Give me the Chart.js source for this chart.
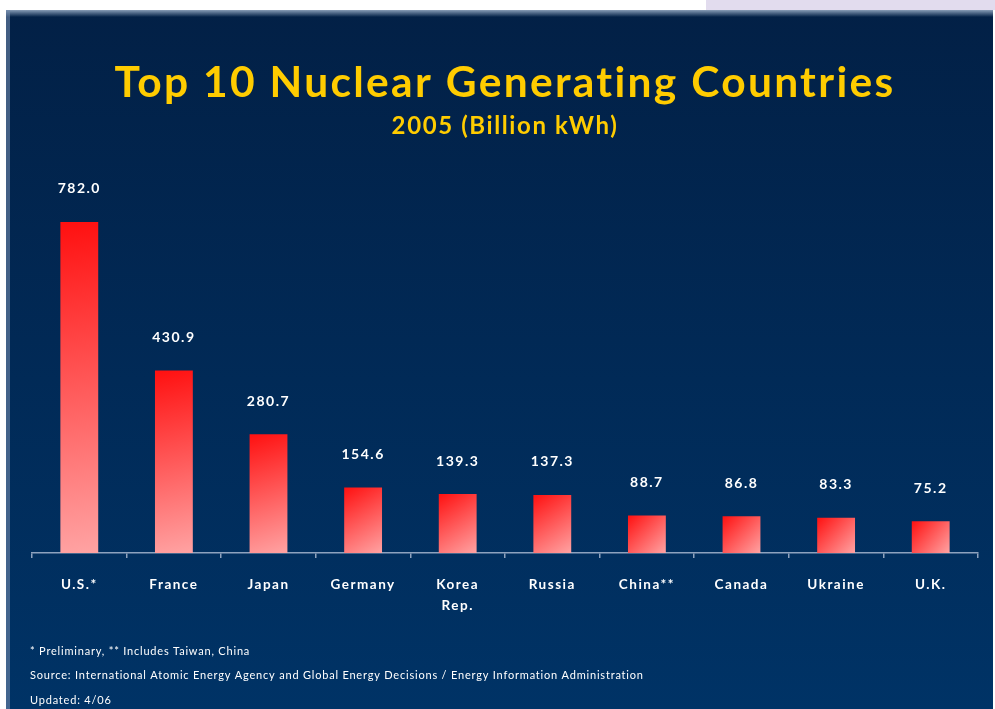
<!DOCTYPE html>
<html>
<head>
<meta charset="utf-8">
<script src="https://cdn.jsdelivr.net/npm/chart.js@4/dist/chart.umd.min.js"></script>
<style>
  html, body { margin: 0; padding: 0; background: #fff; }
  #wrap { width: 995px; height: 709px; position: relative; }
</style>
</head>
<body>
<div id="wrap"><canvas id="nuclearChart" width="995" height="709"></canvas></div>
<script>
const countries = ['U.S.*', 'France', 'Japan', 'Germany', ['Korea', 'Rep.'], 'Russia', 'China**', 'Canada', 'Ukraine', 'U.K.'];
const generation = [782.0, 430.9, 280.7, 154.6, 139.3, 137.3, 88.7, 86.8, 83.3, 75.2];
const titleText = 'Top 10 Nuclear Generating Countries';
const subtitleText = '2005 (Billion kWh)';
const footnotes = [
  '* Preliminary, ** Includes Taiwan, China',
  'Source: International Atomic Energy Agency and Global Energy Decisions / Energy Information Administration',
  'Updated: 4/06'
];

const FONT = 'Lato, "DejaVu Sans", sans-serif';

// slide background, title and footnotes
const slidePlugin = {
  id: 'slide',
  beforeDraw(chart) {
    const ctx = chart.ctx;
    const w = chart.width, h = chart.height;
    ctx.save();
    ctx.fillStyle = '#ffffff';
    ctx.fillRect(0, 0, w, h);
    ctx.fillStyle = '#e2dcee';
    ctx.fillRect(706, 0, w - 706, 10);

    const bg = ctx.createLinearGradient(0, 10, 0, h);
    bg.addColorStop(0, '#022046');
    bg.addColorStop(1, '#003366');
    ctx.fillStyle = bg;
    ctx.fillRect(6, 10, 987, h - 10);

    const edge = ctx.createLinearGradient(0, 10, 0, 17);
    edge.addColorStop(0, 'rgba(150,170,195,0.9)');
    edge.addColorStop(1, 'rgba(150,170,195,0)');
    ctx.fillStyle = edge;
    ctx.fillRect(6, 10, 987, 7);
    ctx.fillStyle = 'rgba(110,135,170,0.6)';
    ctx.fillRect(6, 10, 4, h - 10);

    ctx.fillStyle = '#ffcc00';
    ctx.textAlign = 'center';
    ctx.textBaseline = 'middle';
    ctx.letterSpacing = '2.3px';
    ctx.font = 'bold 42.5px ' + FONT;
    ctx.fillText(titleText, 505, 83);
    ctx.letterSpacing = '1.6px';
    ctx.font = 'bold 24px ' + FONT;
    ctx.fillText(subtitleText, 505, 126);

    ctx.fillStyle = '#ffffff';
    ctx.textAlign = 'left';
    ctx.letterSpacing = '0.8px';
    ctx.font = '11px ' + FONT;
    footnotes.forEach((t, i) => ctx.fillText(t, 30, 651 + i * 24.5));
    ctx.restore();
    // spacing for the axis labels drawn next
    ctx.letterSpacing = '1.5px';
  }
};

// value labels above bars
const valueLabels = {
  id: 'valueLabels',
  afterDatasetsDraw(chart) {
    const ctx = chart.ctx;
    const meta = chart.getDatasetMeta(0);
    ctx.save();
    ctx.fillStyle = '#ffffff';
    ctx.letterSpacing = '1.5px';
    ctx.font = 'bold 14px ' + FONT;
    ctx.textAlign = 'center';
    ctx.textBaseline = 'middle';
    meta.data.forEach((bar, i) => {
      ctx.fillText(generation[i].toFixed(1), bar.x, bar.y - 33);
    });
    ctx.restore();
  }
};

function barGradient(context) {
  const chart = context.chart;
  const xs = chart.scales.x, ys = chart.scales.y;
  if (!xs || !ys || context.dataIndex === undefined) return '#ff3030';
  const cx = xs.getPixelForValue(context.dataIndex);
  const top = ys.getPixelForValue(generation[context.dataIndex]);
  const bottom = ys.getPixelForValue(0);
  if (![cx, top, bottom].every(Number.isFinite)) return '#ff3030';
  const g = chart.ctx.createLinearGradient(cx - 19, top, cx + 19, bottom);
  g.addColorStop(0, '#ff1010');
  g.addColorStop(1, '#ffa3a3');
  return g;
}

new Chart(document.getElementById('nuclearChart'), {
  type: 'bar',
  data: {
    labels: countries,
    datasets: [{
      data: generation,
      backgroundColor: barGradient,
      borderWidth: 0,
      categoryPercentage: 1,
      barPercentage: 0.4
    }]
  },
  options: {
    responsive: false,
    animation: false,
    layout: { padding: { left: 32, right: 17, top: 172, bottom: 0 } },
    plugins: { legend: { display: false }, tooltip: { enabled: false } },
    scales: {
      y: { display: false, min: 0, max: 900 },
      x: {
        afterFit: s => { s.height = 156; },
        border: { display: true, color: '#8ea2be', width: 1.5 },
        grid: { display: true, drawOnChartArea: false, drawTicks: true, tickLength: 5, color: '#8ea2be', lineWidth: 1.5 },
        ticks: {
          color: '#ffffff',
          font: { family: FONT, weight: 'bold', size: 13.5, lineHeight: 1.55 },
          padding: 16,
          maxRotation: 0
        }
      }
    }
  },
  plugins: [slidePlugin, valueLabels]
});
</script>
</body>
</html>
